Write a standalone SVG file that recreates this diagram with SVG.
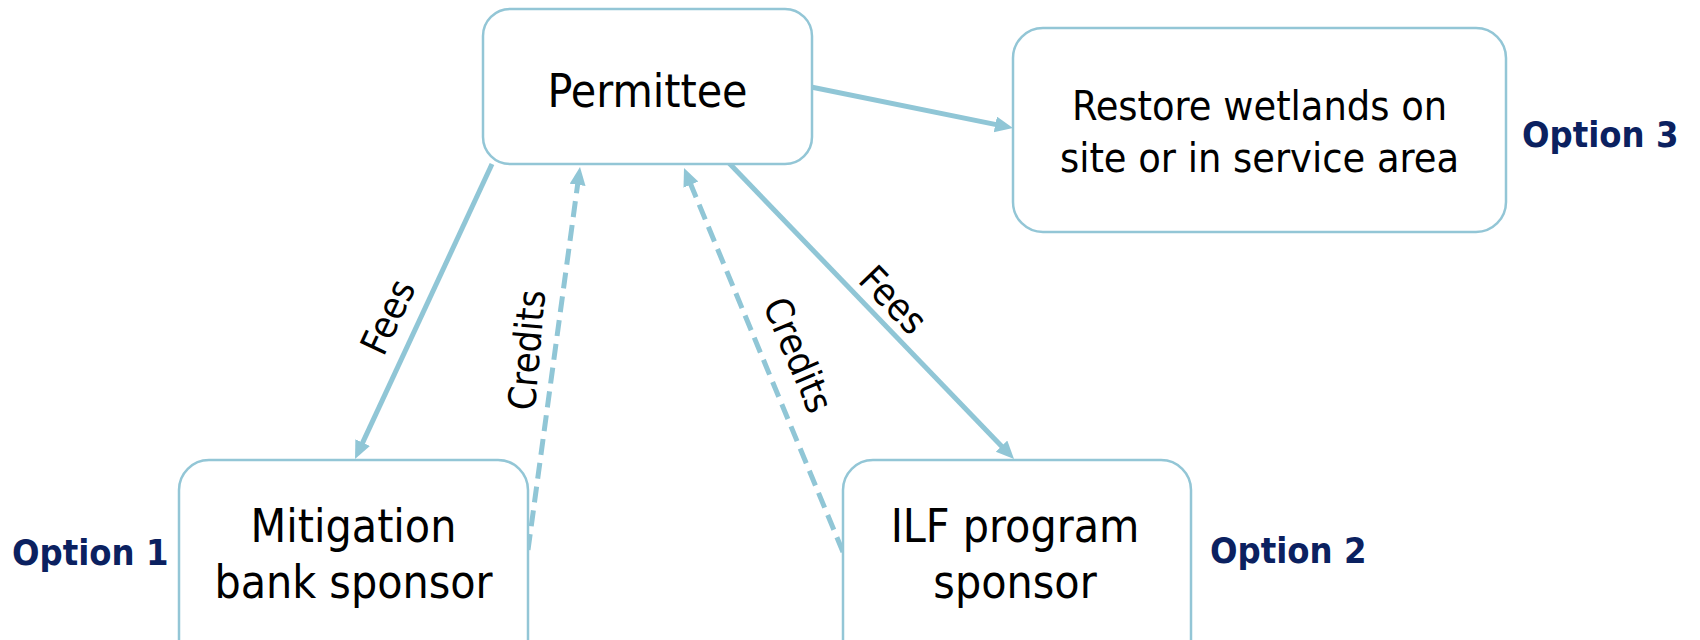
<svg xmlns="http://www.w3.org/2000/svg" width="1700" height="640" viewBox="0 0 1700 640">
<defs>
<style>
.box{fill:#ffffff;stroke:#93C6D6;stroke-width:2.5}
.lbl{font-family:'DejaVu Sans Condensed','DejaVu Sans',sans-serif;font-stretch:condensed;fill:#000000;text-anchor:middle}
.opt{font-family:'DejaVu Sans Condensed','DejaVu Sans',sans-serif;font-stretch:condensed;font-weight:bold;font-size:36px;fill:#0B2160}
.edge{fill:none;stroke:#90C6D6;stroke-width:5}
.dash{stroke-dasharray:16 8}
.elbl{font-family:'DejaVu Sans Condensed','DejaVu Sans',sans-serif;font-stretch:condensed;font-size:38px;fill:#000000;text-anchor:middle}
</style>
<marker id="arr" markerUnits="userSpaceOnUse" markerWidth="20" markerHeight="18" refX="6" refY="8" orient="auto">
<path d="M0,0 L18,8 L0,16 z" fill="#90C6D6"/>
</marker>
</defs>
<rect width="1700" height="640" fill="#ffffff"/>
<g id="connectors">
<line class="edge" x1="811" y1="87" x2="1001.2" y2="125.6" marker-end="url(#arr)"/>
<line class="edge" x1="492" y1="164" x2="360.1" y2="448.1" marker-end="url(#arr)"/>
<line class="edge dash" x1="528" y1="550" x2="578.4" y2="178.9" marker-end="url(#arr)"/>
<line class="edge dash" x1="843" y1="552" x2="688.6" y2="179.1" marker-end="url(#arr)"/>
<line class="edge" x1="729" y1="163" x2="1005.7" y2="450.4" marker-end="url(#arr)"/>
<text class="elbl" transform="translate(388,317) rotate(-65)" y="13">Fees</text>
<text class="elbl" transform="translate(527,350) rotate(-85)" y="13">Credits</text>
<text class="elbl" transform="translate(798,355) rotate(67)" y="13">Credits</text>
<text class="elbl" transform="translate(893,300) rotate(46)" y="13">Fees</text>
</g>
<g id="permittee">
<rect class="box" x="483" y="9" width="329" height="155" rx="27"/>
<text class="lbl" x="647.5" y="107" font-size="46">Permittee</text>
</g>
<g id="restore">
<rect class="box" x="1013" y="28" width="493" height="204" rx="30"/>
<text class="lbl" x="1259.5" y="120" font-size="41">Restore wetlands on</text>
<text class="lbl" x="1259.5" y="172" font-size="41">site or in service area</text>
</g>
<g id="mitigation">
<rect class="box" x="179" y="460" width="349" height="220" rx="30"/>
<text class="lbl" x="353.5" y="542" font-size="46">Mitigation</text>
<text class="lbl" x="353.5" y="598" font-size="46">bank sponsor</text>
</g>
<g id="ilf">
<rect class="box" x="843" y="460" width="348" height="220" rx="30"/>
<text class="lbl" x="1015" y="542" font-size="46">ILF program</text>
<text class="lbl" x="1015" y="598" font-size="46">sponsor</text>
</g>
<g id="options">
<text class="opt" x="12" y="565">Option 1</text>
<text class="opt" x="1210" y="563">Option 2</text>
<text class="opt" x="1522" y="147">Option 3</text>
</g>
</svg>
